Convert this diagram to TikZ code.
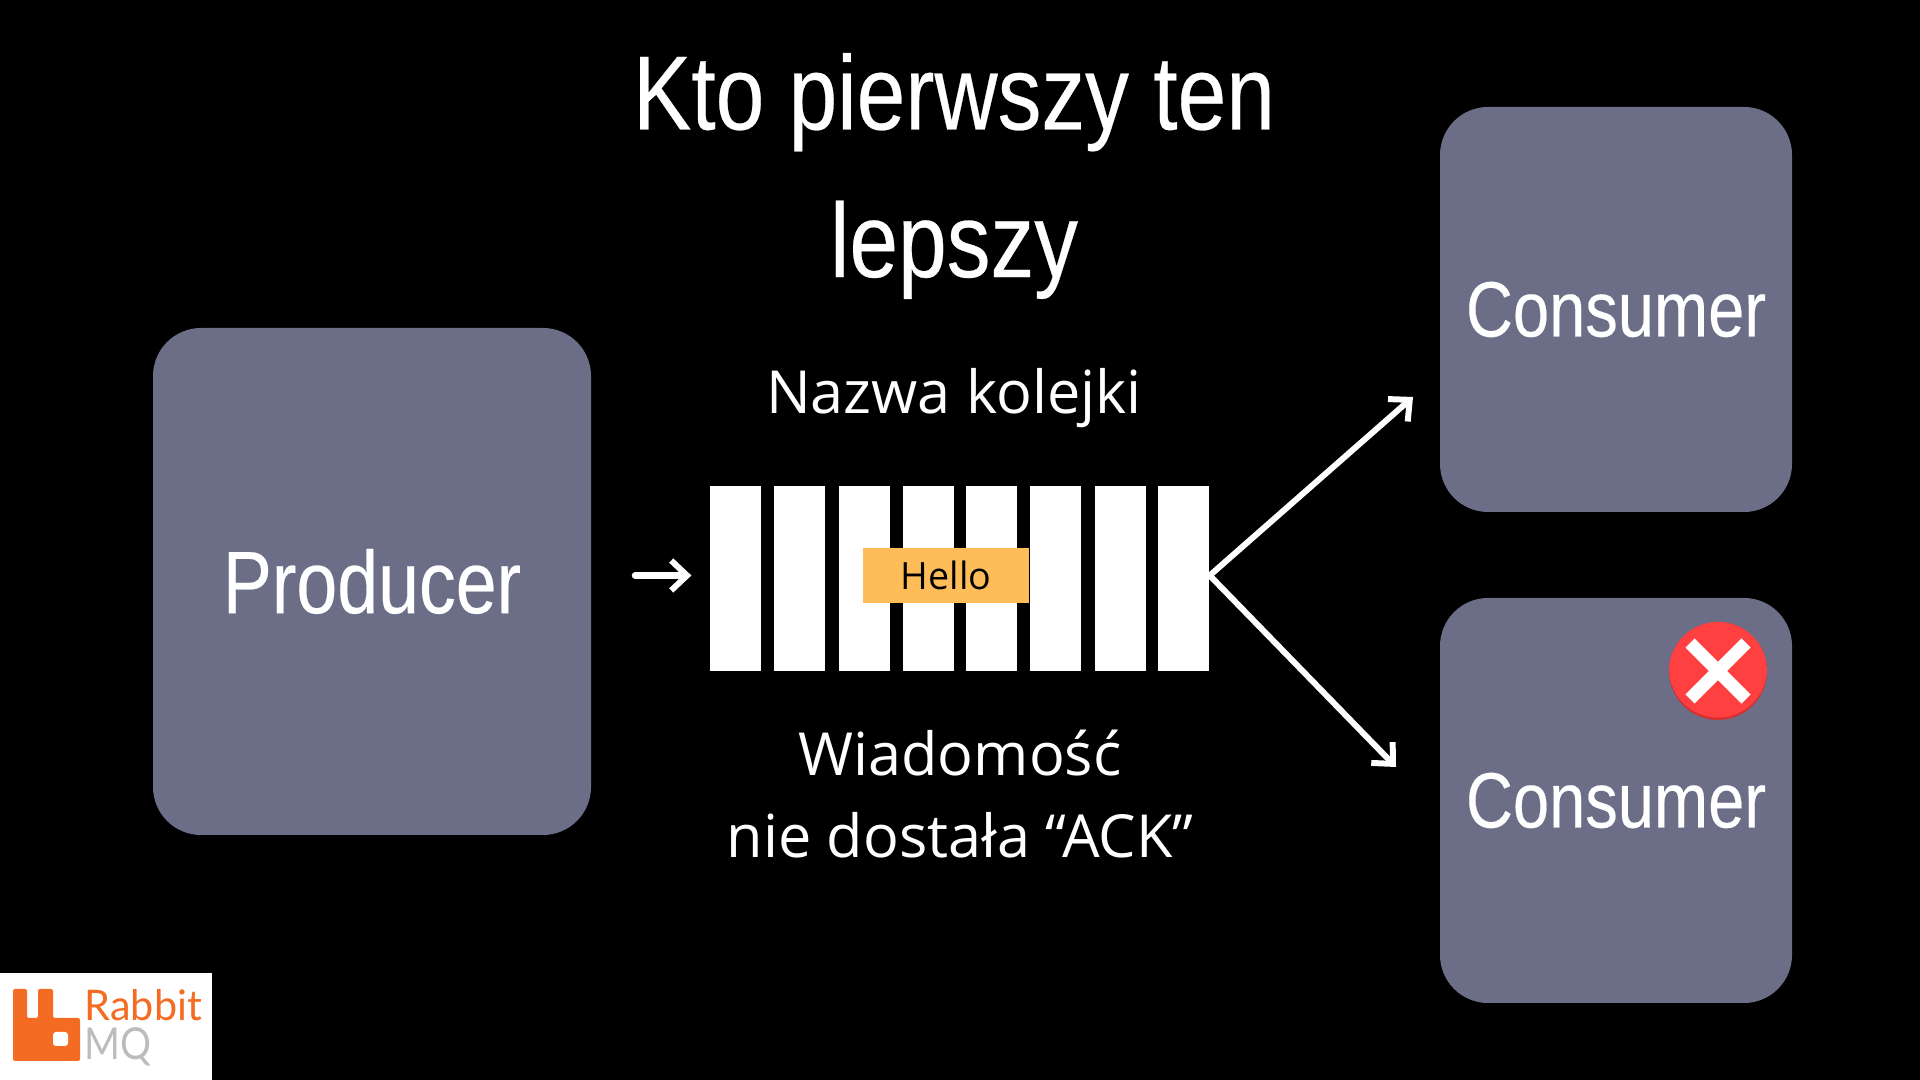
\documentclass[tikz,border=0pt]{standalone}
\usepackage{fontspec}
\setmainfont{Open Sans}
\newfontfamily\narrowfont[FakeStretch=0.83,FakeBold=0.25]{Liberation Sans}
\newfontfamily\logofont[FakeStretch=0.98]{Lato}
\newfontfamily\logomqfont[FakeStretch=0.88]{Lato}
\usetikzlibrary{positioning,arrows.meta}
\definecolor{boxgrey}{RGB}{108,110,136}
\definecolor{hellowash}{RGB}{255,189,89}
\definecolor{failred}{RGB}{255,64,64}
\definecolor{faildark}{RGB}{214,48,48}
\definecolor{rabbit}{RGB}{244,108,36}
\definecolor{mqgrey}{RGB}{188,188,188}

\begin{document}
\begin{tikzpicture}[
		actor/.style={fill=boxgrey, rounded corners=0.48cm, inner sep=0pt, text=white},
		slot/.style={fill=white, minimum width=0.51cm, minimum height=1.85cm, inner sep=0pt},
		caption/.style={text=white, align=center, inner sep=0pt},
		arr/.style={-{Straight Barb[length=4.5pt, width=8.5pt, line width=1.7pt]}, line width=1.7pt, white, line cap=round}]
		\fill[black] (0,0) rectangle (19.2,10.8);
		\useasboundingbox (0,0) rectangle (19.2,10.8);
		% title and captions
		\node[caption, font=\narrowfont\fontsize{30}{42}\selectfont] (title) at (9.54,9.04) {Kto pierwszy ten\\lepszy};
		\node[caption, font=\fontsize{16.9}{16.9}\selectfont] (qname) at (9.54,6.82) {Nazwa kolejki};
		\node[caption, font=\fontsize{16.9}{23.3}\selectfont] (note) at (9.60,2.86) {Wiadomość\\nie dostała “ACK”};
		% boxes
		\node[actor, minimum width=4.38cm, minimum height=5.07cm, font=\narrowfont\fontsize{25.2}{25.2}\selectfont] (producer) at (3.72,4.985) {Producer};
		\node[actor, minimum width=3.52cm, minimum height=4.05cm, font=\narrowfont\fontsize{22.3}{22.3}\selectfont] (consumera) at (16.16,7.705) {Consumer};
		\node[actor, minimum width=3.52cm, minimum height=4.05cm, font=\narrowfont\fontsize{22.3}{22.3}\selectfont] (consumerb) at (16.16,2.795) {Consumer};
		% queue
		\foreach \i/\x in {1/7.355,2/7.995,3/8.645,4/9.285,5/9.915,6/10.555,7/11.205,8/11.835}
			\node[slot] (bar\i) at (\x,5.015) {};
		\node[fill=hellowash, minimum width=1.66cm, minimum height=0.55cm, inner sep=0pt, font=\fontsize{10.7}{10.7}\selectfont] (hello) at (9.46,5.045) {Hello};
		% connectors
		\coordinate (tipa) at (14.13,6.83);
		\coordinate (tipb) at (13.96,3.13);
		\draw[arr, line width=2pt, shorten <=12.4pt, shorten >=5.1pt] (producer.east |- hello) -- (bar1.west |- hello);
		\draw[arr] (bar8.east |- hello) -- (tipa);
		\draw[arr] (bar8.east |- hello) -- (tipb);
		% failed mark
		\node[circle, fill=faildark, minimum size=0.98cm, inner sep=0pt,
			path picture={\fill[failred] ([yshift=0.025cm]path picture bounding box.center) circle (0.49cm);}] (fail) at (17.18,4.09) {};
		\draw[white, line width=0.13cm] ([shift={(-0.28,-0.28)}]fail.center) -- ([shift={(0.28,0.28)}]fail.center);
		\draw[white, line width=0.13cm] ([shift={(-0.28,0.28)}]fail.center) -- ([shift={(0.28,-0.28)}]fail.center);
		% logo
		\fill[white] (0,0) rectangle (2.12,1.07);
		\fill[rabbit, rounded corners=0.02cm] (0.13,0.19) -- (0.80,0.19) -- (0.80,0.62) -- (0.53,0.62) -- (0.53,0.91) -- (0.38,0.91) -- (0.38,0.62) -- (0.27,0.62) -- (0.27,0.91) -- (0.13,0.91) -- cycle;
		\fill[white, rounded corners=0.03cm] (0.53,0.34) rectangle (0.68,0.48);
		\node[anchor=base west, inner sep=0pt, text=rabbit, font=\logofont\fontsize{12}{12}\selectfont] (rabbitname) at (0.84,0.59) {Rabbit};
		\node[anchor=base west, inner sep=0pt, text=mqgrey, font=\logomqfont\fontsize{12.5}{12.5}\selectfont] (mqname) at (0.84,0.20) {MQ};
	\end{tikzpicture}
\end{document}
